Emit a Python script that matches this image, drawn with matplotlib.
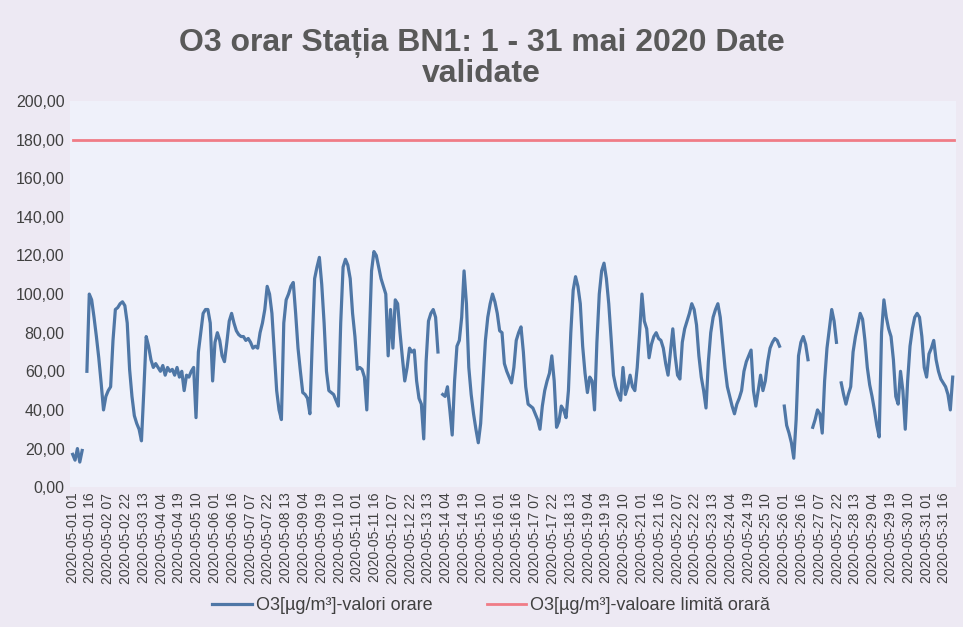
import numpy as np
import pandas as pd
import matplotlib
matplotlib.use('Agg')
import matplotlib.pyplot as plt

nan = np.nan

# O3 valori orare, citite din grafic la fiecare 2 ore (12 valori pe zi)
o3_orar = [
    17, 14, 20, 13, 19, nan, 60, 100, 97, 88, 78, 67,      # 01
    54, 40, 47, 50, 52, 76, 92, 93, 95, 96, 94, 85,        # 02
    61, 47, 37, 33, 30, 24, 50, 78, 73, 66, 62, 64,        # 03
    62, 60, 63, 58, 62, 60, 61, 58, 62, 57, 60, 50,        # 04
    58, 57, 60, 62, 36, 70, 80, 90, 92, 92, 85, 55,        # 05
    75, 80, 76, 68, 65, 75, 86, 90, 85, 81, 79, 78,        # 06
    78, 76, 77, 75, 72, 73, 72, 80, 85, 92, 104, 100,      # 07
    90, 70, 50, 40, 35, 85, 97, 100, 104, 106, 90, 72,     # 08
    60, 49, 48, 46, 38, 75, 108, 114, 119, 105, 85, 60,    # 09
    50, 49, 48, 45, 42, 85, 114, 118, 115, 108, 90, 78,    # 10
    61, 62, 61, 57, 40, 75, 112, 122, 120, 114, 108, 104,  # 11
    100, 68, 92, 72, 97, 95, 80, 67, 55, 62, 72, 70,       # 12
    71, 55, 46, 43, 25, 65, 86, 90, 92, 88, 70, nan,       # 13
    48, 47, 52, 40, 27, 55, 73, 76, 88, 112, 95, 62,       # 14
    48, 38, 30, 23, 33, 55, 76, 88, 95, 100, 96, 90,       # 15
    81, 80, 64, 60, 57, 54, 62, 76, 80, 83, 70, 52,        # 16
    43, 42, 41, 38, 35, 30, 42, 50, 55, 59, 68, 55,        # 17
    31, 34, 42, 40, 36, 50, 80, 102, 109, 104, 95, 73,     # 18
    59, 49, 57, 55, 40, 75, 100, 112, 116, 108, 95, 77,    # 19
    58, 52, 48, 45, 62, 48, 52, 58, 52, 50, 62, 80,        # 20
    100, 86, 82, 67, 74, 78, 80, 77, 76, 72, 64, 58,       # 21
    70, 82, 68, 58, 56, 75, 82, 86, 90, 95, 92, 84,        # 22
    68, 57, 50, 41, 65, 80, 88, 92, 95, 88, 75, 62,        # 23
    52, 47, 42, 38, 43, 46, 50, 60, 65, 68, 71, 50,        # 24
    42, 50, 58, 50, 55, 65, 72, 75, 77, 76, 73, nan,       # 25
    42, 32, 28, 23, 15, 35, 68, 75, 78, 74, 66, nan,       # 26
    31, 35, 40, 38, 28, 55, 72, 82, 92, 86, 75, nan,       # 27
    54, 48, 43, 48, 52, 70, 78, 84, 90, 87, 76, 62,        # 28
    53, 47, 40, 32, 26, 80, 97, 88, 82, 78, 66, 47,        # 29
    43, 60, 50, 30, 55, 73, 82, 88, 90, 88, 78, 62,        # 30
    57, 69, 72, 76, 66, 60, 56, 54, 52, 48, 40, 57,        # 31
]
limita_orara = 180.0

ore = pd.date_range('2020-05-01 01:00', periods=744, freq='h')
idx = np.arange(len(ore))
idx_o3 = idx[::2]
pas_etichete = 15
etichete = [t.strftime('%Y-%m-%d %H') for t in ore[::pas_etichete]]

fig = plt.figure(figsize=(9.63, 6.27), dpi=100, facecolor='#EDE9F3')
ax = fig.add_axes([0.073, 0.223, 0.920, 0.616])
ax.set_facecolor('#EFF1FA')

ax.plot(idx_o3, o3_orar, color='#4F77A6', linewidth=2.3, label='O3[µg/m³]-valori orare')
ax.plot(idx, [limita_orara] * len(idx), color='#F07C86', linewidth=2.0,
        label='O3[µg/m³]-valoare limită orară')

ax.set_xlim(-2, 745)
ax.set_ylim(0, 200)
ax.set_yticks(np.arange(0, 201, 20))
ax.set_yticklabels([('%.2f' % v).replace('.', ',') for v in np.arange(0, 201, 20)],
                   fontsize=11.5, color='#404040', family='Liberation Sans')
ax.set_xticks(idx[::pas_etichete])
ax.set_xticklabels(etichete, rotation=90, fontsize=10, color='#404040', family='Liberation Sans')
ax.tick_params(length=0, pad=4)
for s in ax.spines.values():
    s.set_visible(False)

fig.text(0.5, 0.955, 'O3 orar Stația BN1: 1 - 31 mai 2020 Date\nvalidate', ha='center', va='top',
         fontsize=23, fontweight='bold', color='#595959', family='Liberation Sans',
         linespacing=1.02)

fig.legend(loc='center', bbox_to_anchor=(0.51, 0.034), ncol=2, frameon=False,
           prop={'family': 'Liberation Sans', 'size': 13}, handlelength=2.2,
           handletextpad=0.2, columnspacing=3.0, labelcolor='#404040')

fig.savefig('out.png', dpi=100, facecolor=fig.get_facecolor())
